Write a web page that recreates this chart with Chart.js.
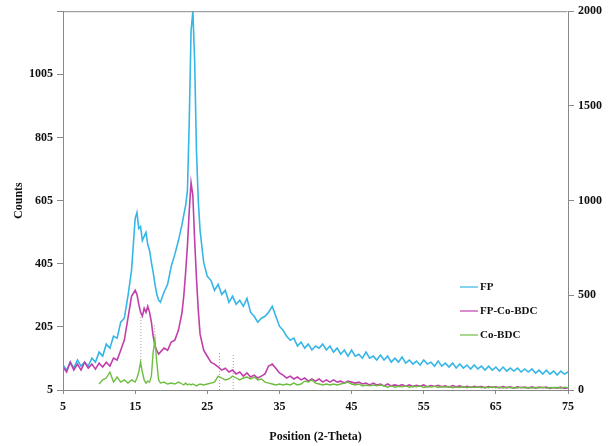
<!DOCTYPE html>
<html>
<head>
<meta charset="utf-8">
<script src="https://cdn.jsdelivr.net/npm/chart.js@4"></script>
<style>
  html, body { margin: 0; padding: 0; background: #fff; }
  #wrap { width: 614px; height: 446px; position: relative; }
</style>
</head>
<body>
<div id="wrap"><canvas id="chart" width="614" height="446"></canvas></div>
<script>
/* --------------------------
   DATA
--------------------------- */
const twoTheta = [
  5,5.5,6,6.5,7,7.5,8,8.5,9,9.5,10,10.5,11,11.5,12,12.5,13,13.5,14,14.5,15,
  15.25,15.5,15.75,16,16.25,16.5,16.75,17,17.25,17.5,17.75,18,18.25,
  18.5,19,19.5,20,20.5,21,21.5,
  21.75,22,22.25,22.5,22.75,23,23.25,23.5,23.75,24,
  24.5,25,25.5,26,26.5,27,27.5,28,28.5,29,29.5,30,30.5,31,31.5,32,32.5,33,33.5,34,34.5,
  35,35.5,36,36.5,37,37.5,38,38.5,39,39.5,40,40.5,41,41.5,42,42.5,43,43.5,44,44.5,
  45,45.5,46,46.5,47,47.5,48,48.5,49,49.5,50,50.5,51,51.5,52,52.5,53,53.5,54,54.5,
  55,55.5,56,56.5,57,57.5,58,58.5,59,59.5,60,60.5,61,61.5,62,62.5,63,63.5,64,64.5,
  65,65.5,66,66.5,67,67.5,68,68.5,69,69.5,70,70.5,71,71.5,72,72.5,73,73.5,74,74.5,75
];

// FP (right axis, 0-2000)
const fpCounts = [
  132,105,147,116,158,126,147,126,168,147,200,179,242,221,284,274,358,379,495,632,905,
  937,853,863,789,811,832,768,737,674,621,558,505,474,
  463,516,558,653,716,789,874,
  926,974,1053,1421,1895,2000,1737,1263,1000,842,
  674,600,579,526,558,505,526,463,495,453,474,442,484,411,389,358,379,389,411,442,389,
  337,316,284,263,274,232,253,221,242,211,232,221,242,211,232,200,221,189,211,179,
  211,179,189,168,200,168,179,158,184,158,179,147,168,147,174,142,158,137,153,132,
  158,137,147,126,153,126,142,121,142,116,137,116,132,111,132,111,126,105,126,105,
  121,100,121,100,116,100,116,95,111,95,111,89,105,84,105,84,100,79,100,84,95
];

// FP-Co-BDC (left axis)
const fpCoBdcCounts = [
  78,62,93,68,87,68,93,74,87,71,90,78,93,81,106,100,131,163,232,302,321,
  308,277,251,239,264,251,270,251,220,176,144,131,119,
  125,138,131,157,163,194,251,
  305,378,463,573,662,621,479,359,258,182,
  131,112,93,87,78,68,74,62,68,56,62,49,59,46,52,43,49,56,81,87,74,
  59,52,43,49,40,46,37,43,33,40,33,40,30,37,30,37,30,33,27,33,
  30,27,30,24,27,21,27,21,24,18,24,18,21,18,22,17,21,16,20,17,
  21,15,19,16,20,15,18,14,19,15,18,14,17,13,17,14,16,12,16,13,
  15,12,16,12,15,11,15,12,14,11,15,11,14,12,14,10,13,11,14,10,12
];

// Co-BDC (left axis), no data below 10 deg
const coBdcCounts = [
  null,null,null,null,null,null,null,null,null,null,24,37,43,62,30,46,30,37,27,37,30,
  43,62,93,62,37,27,33,30,49,125,163,93,37,
  27,30,24,27,24,30,24,
  21,27,21,24,21,24,21,18,21,24,
  21,24,27,30,49,43,37,40,49,43,37,43,46,40,46,37,40,30,27,24,21,
  24,21,24,21,27,21,24,33,30,37,27,24,21,24,21,24,21,24,27,30,
  24,21,24,18,21,18,21,18,21,18,14,18,14,17,15,18,14,17,15,18,
  13,16,14,17,13,16,14,16,12,15,13,16,12,15,13,15,12,14,12,15,
  12,14,11,14,12,13,11,14,12,13,11,13,12,14,11,13,12,13,11,14,12
];

// dotted marker lines
const markerPos = [15.8, 17.7, 26.7, 28.6];
const markerTop = [236, 210, 122, 116];
const markerBottom = [90, 163, 5, 5];

const leftTicks = { min: 5, max: 1205, step: 200 };
const rightTicks = { min: 0, max: 2000, step: 500 };
const xTicks = { min: 5, max: 75, step: 10 };

/* --------------------------
   CHART
--------------------------- */
const toPts = arr => twoTheta.map((x, i) => ({ x: x, y: arr[i] }));

let markerPts = [];
markerPos.forEach((x, i) => {
    markerPts.push({ x: x, y: markerTop[i] });
    markerPts.push({ x: x, y: markerBottom[i] });
    markerPts.push({ x: x, y: null });
});

const serif = 'Liberation Serif, Times New Roman, serif';
const axisGray = '#8a8a8a';

// frame on top of the plot
const framePlugin = {
    id: 'frame',
    afterDatasetsDraw(chart) {
        const { ctx, chartArea: a } = chart;
        ctx.save();
        ctx.strokeStyle = axisGray;
        ctx.lineWidth = 1;
        ctx.beginPath();
        ctx.moveTo(a.left + 0.5, a.bottom);
        ctx.lineTo(a.left + 0.5, a.top + 0.5);
        ctx.lineTo(a.right - 0.5, a.top + 0.5);
        ctx.stroke();
        ctx.restore();
    }
};

// legend inside the plot
const legendPlugin = {
    id: 'innerLegend',
    afterDraw(chart) {
        const ctx = chart.ctx;
        ctx.save();
        ctx.font = 'bold 11px ' + serif;
        ctx.textBaseline = 'middle';
        let y = 287;
        chart.data.datasets.forEach(ds => {
            if (ds.hideInLegend) return;
            ctx.strokeStyle = ds.borderColor;
            ctx.lineWidth = 1.2;
            ctx.beginPath();
            ctx.moveTo(460, y);
            ctx.lineTo(478, y);
            ctx.stroke();
            ctx.fillStyle = '#111';
            ctx.fillText(ds.label, 480, y);
            y += 24;
        });
        ctx.restore();
    }
};

const ctx = document.getElementById('chart').getContext('2d');

new Chart(ctx, {
    type: 'line',
    data: {
        datasets: [
            { label: 'FP', data: toPts(fpCounts), yAxisID: 'y1', borderColor: '#35B6E6', borderWidth: 1.6, order: 2 },
            { label: 'FP-Co-BDC', data: toPts(fpCoBdcCounts), yAxisID: 'y', borderColor: '#C13FAB', borderWidth: 1.6, order: 1 },
            { label: 'Co-BDC', data: toPts(coBdcCounts), yAxisID: 'y', borderColor: '#6DBE3E', borderWidth: 1.4, order: 0 },
            { label: 'marks', data: markerPts, yAxisID: 'y', borderColor: '#9a9a9a', borderDash: [1, 2],
              borderWidth: 1, order: 3, hideInLegend: true, spanGaps: false }
        ]
    },
    options: {
        responsive: false,
        animation: false,
        layout: { padding: { top: 10, left: 0, right: 0, bottom: 0 } },
        elements: {
            line: { borderWidth: 1, tension: 0, fill: false },
            point: { radius: 0 }
        },
        plugins: {
            legend: { display: false },
            tooltip: { enabled: false }
        },
        scales: {
            x: {
                type: 'linear',
                min: xTicks.min, max: xTicks.max,
                afterFit: s => { s.height = 56; },
                ticks: { stepSize: xTicks.step, color: '#111', padding: 6, font: { family: serif, size: 12, weight: 'bold' } },
                grid: { drawOnChartArea: false, tickLength: 4, color: axisGray },
                border: { color: axisGray },
                title: { display: true, text: 'Position (2-Theta)', color: '#111', padding: { top: 0, bottom: 2 },
                         font: { family: serif, size: 12, weight: 'bold' } }
            },
            y: {
                position: 'left',
                min: leftTicks.min, max: leftTicks.max,
                afterFit: s => { s.width = 63; },
                ticks: {
                    stepSize: leftTicks.step, color: '#111', padding: 4,
                    font: { family: serif, size: 12, weight: 'bold' },
                    callback: v => v === leftTicks.max ? '' : String(v)
                },
                grid: { drawOnChartArea: false, tickLength: 6, color: axisGray },
                border: { color: axisGray },
                title: { display: true, text: 'Counts', color: '#111', padding: { top: 12, bottom: 0 },
                         font: { family: serif, size: 12, weight: 'bold' } }
            },
            y1: {
                position: 'right',
                min: rightTicks.min, max: rightTicks.max,
                afterFit: s => { s.width = 46; },
                ticks: {
                    stepSize: rightTicks.step, color: '#111', padding: 4,
                    font: { family: serif, size: 12, weight: 'bold' },
                    callback: v => String(v)
                },
                grid: { drawOnChartArea: false, tickLength: 6, color: axisGray },
                border: { color: axisGray }
            }
        }
    },
    plugins: [framePlugin, legendPlugin]
});
</script>
</body>
</html>
